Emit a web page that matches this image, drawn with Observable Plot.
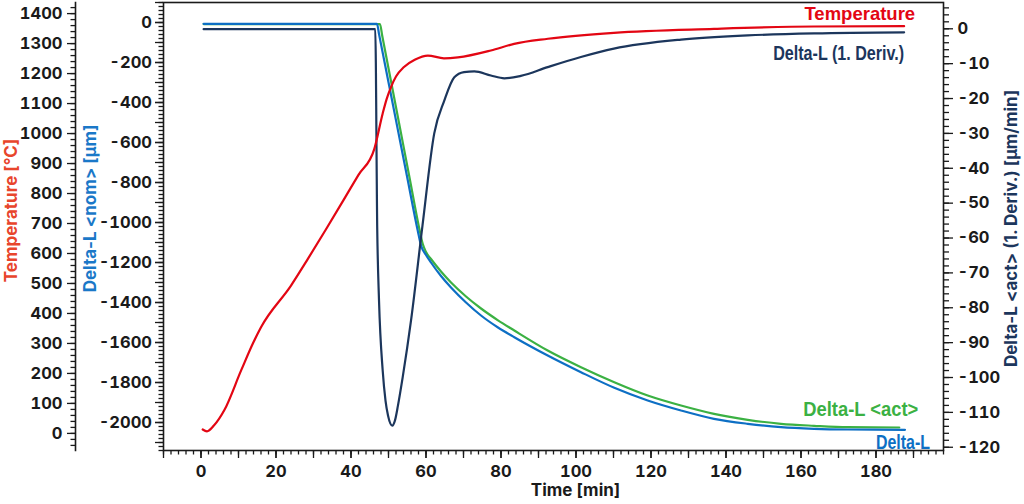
<!DOCTYPE html>
<html><head><meta charset="utf-8">
<script src="https://cdn.jsdelivr.net/npm/d3@7"></script>
<script src="https://cdn.jsdelivr.net/npm/@observablehq/plot@0.6"></script>
<style>html,body{margin:0;padding:0;background:#fff;}</style>
</head><body><div id="chart"></div>
<script>
// ---- data ----
const tempTime  = [0.45, 1.6, 3.5, 6.2, 10.7, 13.8, 16.0, 24.0, 28.5, 33.3, 38.0, 42.0, 46.2, 48.45, 49.5, 50.67, 52.0, 54.13, 57.0, 60.5, 64.8, 68.5, 77.3, 83.5, 92.5, 110.1, 136.8, 163.5, 187.5];
const tempValue = [13, 7, 27, 77, 210, 299, 354, 493, 582, 680, 778, 862, 948, 1067, 1115, 1155, 1190, 1222, 1246, 1260, 1251, 1254, 1277, 1299, 1316, 1336, 1349, 1357, 1358];

const derivTime  = [0.7, 46.47, 47.0, 47.47, 48.45, 49.2, 49.87, 51.01, 51.73, 52.53, 53.79, 56.0, 59.07, 62.2, 64.88, 67.55, 70.13, 72.9, 77.3, 80.9, 85.3, 92.45, 101.3, 110.1, 128.0, 145.8, 163.5, 187.5];
const derivValue = [-0.1, -0.1, -57.8, -77.9, -98.0, -106.6, -110.9, -113.8, -112.3, -108.0, -99.9, -83.7, -56.4, -30.0, -20.6, -13.9, -12.4, -12.2, -13.4, -14.2, -13.5, -11.0, -8.1, -5.7, -3.1, -1.9, -1.3, -1.0];

const nomTime  = [0.7, 46.93, 47.5, 50.0, 52.5, 55.0, 57.79, 58.67, 60.0, 61.33, 64.0, 66.67, 70.67, 74.67, 79.2, 83.55, 92.45, 101.33, 110.21, 119.12, 128.0, 136.8, 145.79, 154.67, 163.47, 172.45, 187.73];
const nomValue = [-6.5, -6.5, -60.8, -298.8, -536.8, -774.9, -1040, -1115, -1162.5, -1200, -1267.5, -1325, -1400, -1465, -1525, -1573.5, -1665, -1748.5, -1826.5, -1890, -1940, -1981.5, -2006.5, -2023.5, -2031.5, -2035, -2036.5];

const actTime  = [0.7, 47.73, 48.3, 50.5, 53.0, 55.5, 58.32, 59.12, 60.0, 61.33, 64.0, 66.67, 70.67, 74.67, 79.2, 83.55, 92.45, 101.33, 110.21, 119.12, 128.0, 136.8, 145.79, 154.67, 163.47, 172.45, 186.21];
const actValue = [-8, -8, -63.5, -277.8, -521.3, -764.8, -1040, -1106.5, -1147.5, -1182.5, -1245, -1300, -1370, -1430, -1489, -1540, -1640, -1723.5, -1798.5, -1865, -1915, -1956.5, -1986.5, -2006.5, -2016.5, -2023.5, -2025];

const xDomain = [-10, 198];
const nomDomain = [-2140, 100];
const tempDomain = [-57, 1437];
const derivDomain = [-120.93, 7.54];

const xLabelTicks = d3.range(0, 181, 20);
const tempLabelTicks = d3.range(0, 1401, 100);
const nomLabelTicks = d3.range(-2000, 1, 200);
const derivLabelTicks = d3.range(-120, 1, 10);

// ---- styling ----
const RED = "#e30613", TITLE_RED = "#e8452c", BLUE = "#0d6fc4", TITLE_BLUE = "#1a78c8",
      GREEN = "#3bb143", NAVY = "#1c365c", INK = "#1a1a1a";
const TICKFONT = "Inter, 'Liberation Sans', sans-serif";
const LABELFONT = "'Liberation Sans', Arial, sans-serif";
// condensed look for in-plot Delta-L labels (rendered width, px)
const condensedWidth = {"Delta-L (1. Deriv.)": 131, "Delta-L <act>": 115, "Delta-L": 54};

// map secondary axes onto the shared (Delta-L nom) y scale
const T2D = d3.scaleLinear().domain(tempDomain).range(nomDomain);
const d2D = d3.scaleLinear().domain(derivDomain).range(nomDomain);

const tempRows  = tempTime.map((t, i) => ({t, v: T2D(tempValue[i])}));
const derivRows = derivTime.map((t, i) => ({t, v: d2D(derivValue[i])}));
const nomRows   = nomTime.map((t, i) => ({t, v: nomValue[i]}));
const actRows   = actTime.map((t, i) => ({t, v: actValue[i]}));

const lbl = (rows, label) => [{...rows[rows.length - 1], label}];

const fmt = d => String(Math.round(d));
const axisStyle = {stroke: INK, strokeWidth: 1.3, label: null, fontFamily: TICKFONT, fontSize: 16.5, fontWeight: "bold"};

const chart = Plot.plot({
  width: 1024, height: 504,
  marginLeft: 163, marginRight: 81, marginTop: 2, marginBottom: 54,
  style: {fontFamily: TICKFONT, fontWeight: "bold", fontSize: "16.5px", background: "#fff", color: INK},
  x: {domain: xDomain},
  y: {domain: nomDomain},
  marks: [
    // x axis
    Plot.axisX(d3.range(-10, 199, 2), {...axisStyle, tickSize: 4.5, fill: "none"}),
    Plot.axisX(d3.range(-10, 199, 10), {...axisStyle, tickSize: 8, fill: "none"}),
    Plot.axisX(xLabelTicks, {...axisStyle, tickSize: 8, tickPadding: 7, tickFormat: fmt, fill: INK}),
    // Delta-L nom axis (frame left)
    Plot.axisY(d3.range(-2140, 101, 20), {...axisStyle, anchor: "left", tickSize: 4.5, fill: "none"}),
    Plot.axisY(d3.range(-2100, 101, 100), {...axisStyle, anchor: "left", tickSize: 8, fill: "none"}),
    Plot.axisY(nomLabelTicks, {...axisStyle, anchor: "left", tickSize: 8, tickPadding: 3.5, tickFormat: fmt, fill: INK}),
    // Temperature axis (outer left)
    Plot.axisY(d3.range(-40, 1421, 20).map(T2D), {...axisStyle, anchor: "left", dx: -88, tickSize: 4.5, fill: "none"}),
    Plot.axisY(tempLabelTicks.map(T2D), {...axisStyle, anchor: "left", dx: -88, tickSize: 8, tickPadding: 5, tickFormat: d => fmt(T2D.invert(d)), fill: INK}),
    Plot.frame({anchor: "left", dx: -88, stroke: INK, strokeWidth: 1.6}),
    // Derivative axis (right)
    Plot.axisY(d3.range(-120, 7, 2).map(d2D), {...axisStyle, anchor: "right", tickSize: 5, fill: "none"}),
    Plot.axisY(derivLabelTicks.map(d2D), {...axisStyle, anchor: "right", tickSize: 9, tickPadding: 5, tickFormat: d => fmt(d2D.invert(d)), fill: INK}),
    Plot.frame({stroke: INK, strokeWidth: 1.6}),
    // curves
    Plot.line(actRows,   {x: "t", y: "v", stroke: GREEN, strokeWidth: 2.2, curve: "monotone-x"}),
    Plot.line(nomRows,   {x: "t", y: "v", stroke: BLUE,  strokeWidth: 2.2, curve: "monotone-x"}),
    Plot.line(derivRows, {x: "t", y: "v", stroke: NAVY,  strokeWidth: 2.2, curve: "monotone-x"}),
    Plot.line(tempRows,  {x: "t", y: "v", stroke: RED,   strokeWidth: 2.2, curve: "monotone-x"}),
    // series labels
    Plot.text(lbl(tempRows, "Temperature"), {x: "t", y: "v", text: "label", textAnchor: "end", lineAnchor: "middle", dx: 11, dy: -12, fill: RED, fontFamily: LABELFONT, fontSize: 18.5}),
    Plot.text(lbl(derivRows, "Delta-L (1. Deriv.)"), {x: "t", y: "v", text: "label", textAnchor: "end", lineAnchor: "middle", dx: 0, dy: 21.5, fill: NAVY, fontFamily: LABELFONT, fontSize: 19.4}),
    Plot.text(lbl(actRows, "Delta-L <act>"), {x: "t", y: "v", text: "label", textAnchor: "end", lineAnchor: "middle", dx: 19, dy: -17.5, fill: GREEN, fontFamily: LABELFONT, fontSize: 19.4}),
    Plot.text(lbl(nomRows, "Delta-L"), {x: "t", y: "v", text: "label", textAnchor: "end", lineAnchor: "middle", dx: 25, dy: 12.5, fill: BLUE, fontFamily: LABELFONT, fontSize: 19.4}),
    // axis titles
    Plot.text(["Temperature [°C]"], {frameAnchor: "left", rotate: -90, textAnchor: "middle", dx: -152, dy: -16, lineAnchor: "middle", fill: TITLE_RED, fontFamily: TICKFONT, fontSize: 17}),
    Plot.text(["Delta-L <nom> [µm]"], {frameAnchor: "left", rotate: -90, textAnchor: "middle", dx: -73, dy: -18, lineAnchor: "middle", fill: TITLE_BLUE, fontFamily: TICKFONT, fontSize: 17}),
    Plot.text(["Delta-L <act> (1. Deriv.) [µm/min]"], {frameAnchor: "right", rotate: -90, textAnchor: "middle", dx: 68, dy: 2, lineAnchor: "middle", fill: NAVY, fontFamily: TICKFONT, fontSize: 17}),
    Plot.text(["Time [min]"], {frameAnchor: "bottom", textAnchor: "middle", dx: 22, dy: 40, lineAnchor: "middle", fill: INK, fontFamily: TICKFONT, fontSize: 17})
  ]
});
d3.select(chart).selectAll("text").each(function () {
  const w = condensedWidth[this.textContent];
  if (w) d3.select(this).attr("textLength", w).attr("lengthAdjust", "spacingAndGlyphs");
});
document.getElementById("chart").appendChild(chart);
</script></body></html>
